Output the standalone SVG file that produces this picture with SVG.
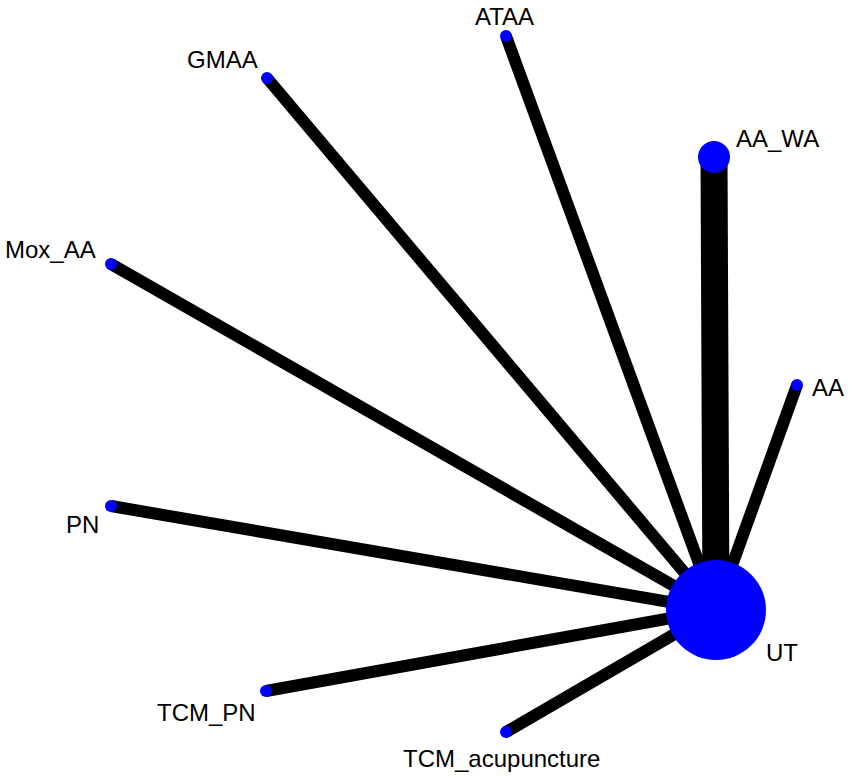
<svg xmlns="http://www.w3.org/2000/svg" width="850" height="778" viewBox="0 0 850 778">
<style>
.e{stroke:#000;stroke-width:12}
.n{fill:#0000ff}
text{font-family:"Liberation Sans",Arial,sans-serif;font-size:24px;fill:#000}
</style>
<rect width="850" height="778" fill="#fff"/>
<g id="connectors">
<line class="e" x1="716" y1="610" x2="714" y2="157" style="stroke-width:27"/>
<line class="e" x1="716" y1="610" x2="797" y2="385"/>
<line class="e" x1="716" y1="610" x2="506" y2="36"/>
<line class="e" x1="716" y1="610" x2="267" y2="78"/>
<line class="e" x1="716" y1="610" x2="111" y2="264"/>
<line class="e" x1="716" y1="610" x2="111" y2="506"/>
<line class="e" x1="716" y1="610" x2="266" y2="691"/>
<line class="e" x1="716" y1="610" x2="506" y2="732"/>
</g>
<g id="UT"><circle class="n" cx="716" cy="610" r="50"/><text x="766" y="661">UT</text></g>
<g id="AA_WA"><circle class="n" cx="714" cy="157" r="16"/><text x="736" y="147">AA_WA</text></g>
<g id="AA"><circle class="n" cx="797" cy="385" r="6"/><text x="812" y="396">AA</text></g>
<g id="ATAA"><circle class="n" cx="506" cy="36" r="6"/><text x="475" y="25">ATAA</text></g>
<g id="GMAA"><circle class="n" cx="267" cy="78" r="6"/><text x="187" y="68">GMAA</text></g>
<g id="Mox_AA"><circle class="n" cx="111" cy="264" r="6"/><text x="5" y="258">Mox_AA</text></g>
<g id="PN"><circle class="n" cx="111" cy="506" r="6"/><text x="66" y="533">PN</text></g>
<g id="TCM_PN"><circle class="n" cx="266" cy="691" r="6"/><text x="157" y="721">TCM_PN</text></g>
<g id="TCM_acupuncture"><circle class="n" cx="506" cy="732" r="6"/><text x="403" y="767">TCM_acupuncture</text></g>
</svg>
